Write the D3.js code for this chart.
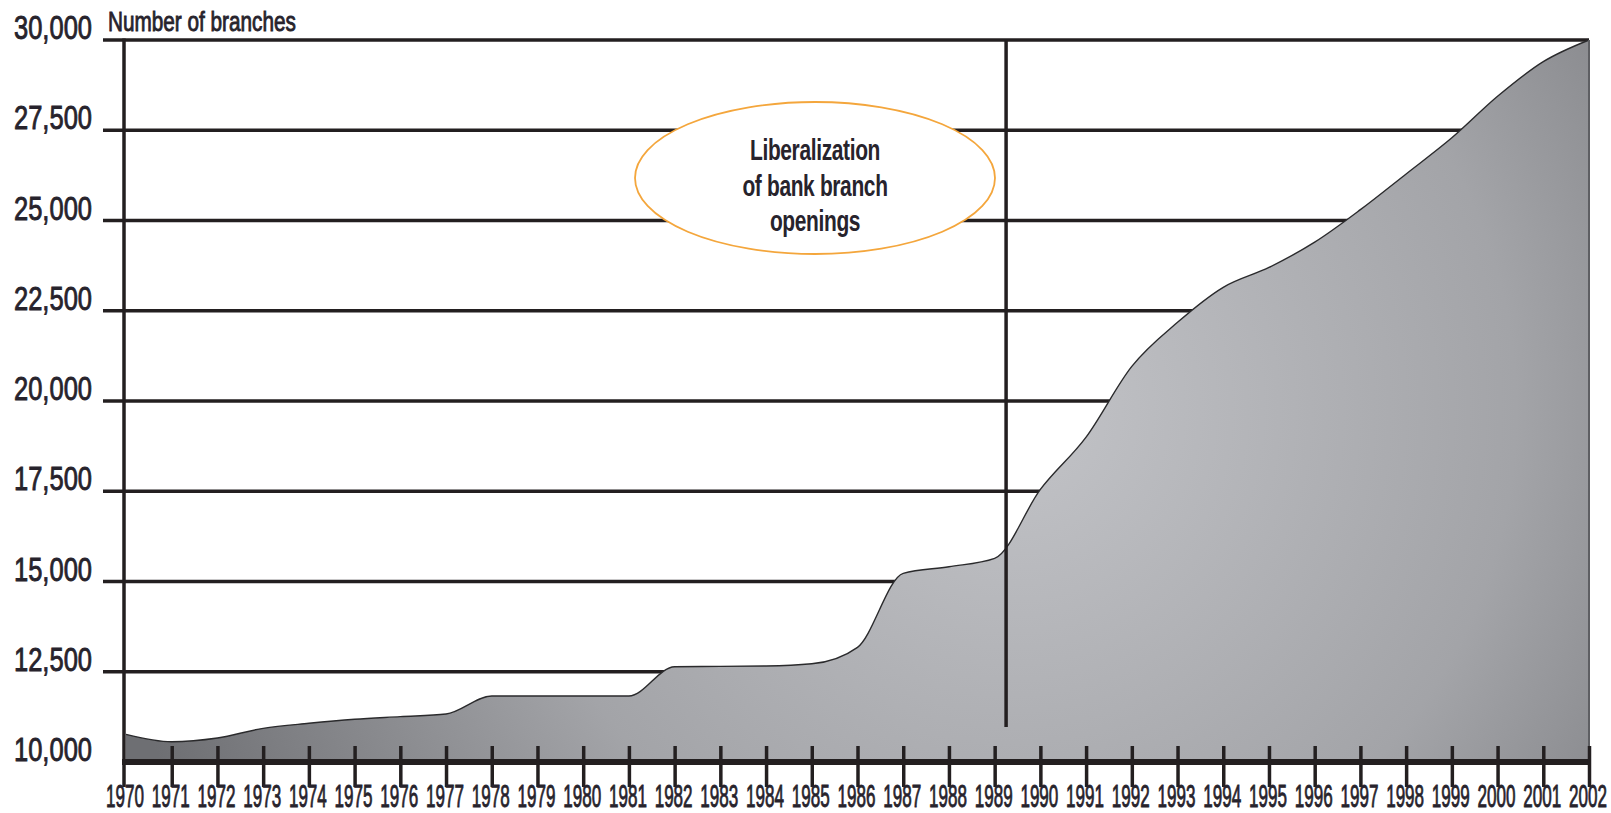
<!DOCTYPE html>
<html>
<head>
<meta charset="utf-8">
<script src="https://cdn.jsdelivr.net/npm/d3@7/dist/d3.min.js"></script>
<style>
  html, body { margin: 0; padding: 0; background: #ffffff; }
  svg { display: block; }
  text { font-family: "Liberation Sans", Arial, sans-serif; fill: #27232c; }
  .heavy { stroke: #27232c; stroke-width: 0.9px; paint-order: stroke; }
</style>
</head>
<body>
<svg id="chart" width="1611" height="813"></svg>
<script>
// Number of bank branches per year, 1970-2002
const years = [1970, 1971, 1972, 1973, 1974, 1975, 1976, 1977, 1978, 1979, 1980,
  1981, 1982, 1983, 1984, 1985, 1986, 1987, 1988, 1989, 1990, 1991, 1992,
  1993, 1994, 1995, 1996, 1997, 1998, 1999, 2000, 2001, 2002];
const branches = [10767, 10562, 10665, 10933, 11072, 11183, 11256, 11330, 11828, 11828, 11828,
  11828, 12640, 12650, 12659, 12720, 13177, 15227, 15410, 15640, 17550, 19000, 20960,
  22180, 23150, 23700, 24400, 25300, 26290, 27290, 28440, 29400, 30000];
const yTicks = [10000, 12500, 15000, 17500, 20000, 22500, 25000, 27500, 30000];
const yTitle = "Number of branches";
const reformYear = 1989.25;
const noteLines = ["Liberalization", "of bank branch", "openings"];

const data = years.map((yr, i) => ({ year: yr, value: branches[i] }));

const svg = d3.select("#chart");
const W = 1611, H = 813;
const margin = { left: 126, right: 22, top: 40, bottom: 51 };
const ink = "#231f20";

const x = d3.scaleLinear().domain([years[0], years[years.length - 1]])
  .range([margin.left, W - margin.right]);
const y = d3.scaleLinear().domain([yTicks[0], yTicks[yTicks.length - 1]])
  .range([H - margin.bottom, margin.top]);

// measure helper to squeeze glyphs into the condensed look
function naturalWidth(str, size, weight) {
  const t = svg.append("text").attr("font-size", size).attr("font-weight", weight || "normal").text(str);
  const w = t.node().getComputedTextLength();
  t.remove();
  return w;
}

// gradient fill for the area
const defs = svg.append("defs");
const grad = defs.append("radialGradient").attr("id", "areaFill")
  .attr("gradientUnits", "userSpaceOnUse")
  .attr("cx", 1010).attr("cy", 410).attr("r", 920);
grad.append("stop").attr("offset", "0%").attr("stop-color", "#c3c4c8");
grad.append("stop").attr("offset", "55%").attr("stop-color", "#a3a4a8");
grad.append("stop").attr("offset", "100%").attr("stop-color", "#6e6f73");

// horizontal grid lines
const x0 = x.range()[0], x1 = x.range()[1];
svg.append("g").selectAll("line").data(yTicks.slice(1)).join("line")
  .attr("x1", x0 - 23).attr("x2", x1)
  .attr("y1", d => y(d)).attr("y2", d => y(d))
  .attr("stroke", ink).attr("stroke-width", 3.5);

// the area
const area = d3.area().curve(d3.curveMonotoneX)
  .x(d => x(d.year)).y0(y(yTicks[0])).y1(d => y(d.value));
const line = d3.line().curve(d3.curveMonotoneX)
  .x(d => x(d.year)).y(d => y(d.value));
svg.append("path").datum(data).attr("d", area).attr("fill", "url(#areaFill)");
svg.append("path").datum(data).attr("d", line)
  .attr("fill", "none").attr("stroke", "#2a2a2c").attr("stroke-width", 1.4);
svg.append("line")
  .attr("x1", x1).attr("x2", x1)
  .attr("y1", y(branches[branches.length - 1])).attr("y2", y(yTicks[0]))
  .attr("stroke", "#5e5f63").attr("stroke-width", 2);

// y axis line
svg.append("line").attr("x1", x0 - 2).attr("x2", x0 - 2)
  .attr("y1", y(yTicks[yTicks.length - 1]) - 1.5).attr("y2", y(yTicks[0]) + 25)
  .attr("stroke", ink).attr("stroke-width", 3.5);

// x axis with ticks
svg.append("line").attr("x1", x0 - 4).attr("x2", x1 + 2)
  .attr("y1", y(yTicks[0])).attr("y2", y(yTicks[0]))
  .attr("stroke", ink).attr("stroke-width", 6);
const xAxis = d3.axisBottom(x).tickValues(years.slice(1)).tickSizeInner(25).tickSizeOuter(0).tickFormat("");
const gx = svg.append("g").attr("transform", `translate(0,${y(yTicks[0])})`).call(xAxis);
gx.select(".domain").remove();
gx.selectAll(".tick line")
  .attr("y1", -16).attr("y2", 25)
  .attr("stroke", ink).attr("stroke-width", 3.5);

// x labels
const xSize = 31;
const xs = 38 / naturalWidth("2000", xSize);
svg.append("g").selectAll("text").data(years).join("text")
  .attr("class", "heavy")
  .attr("transform", d => `translate(${x(d) - 1},${H - 6}) scale(${xs},1)`)
  .attr("text-anchor", "middle").attr("font-size", xSize)
  .text(d => String(d));

// y labels
const ySize = 34;
const ys = 78 / naturalWidth("30,000", ySize);
const fmt = d3.format(",");
svg.append("g").selectAll("text").data(yTicks).join("text")
  .attr("class", "heavy")
  .attr("transform", d => `translate(92,${y(d) - 1}) scale(${ys},1)`)
  .attr("text-anchor", "end").attr("font-size", ySize)
  .text(d => fmt(d));

// y title
const tSize = 28;
const ts = 188 / naturalWidth(yTitle, tSize);
svg.append("text")
  .attr("class", "heavy")
  .attr("transform", `translate(108,31) scale(${ts},1)`)
  .attr("font-size", tSize).text(yTitle);

// liberalization marker
svg.append("line")
  .attr("x1", x(reformYear)).attr("x2", x(reformYear))
  .attr("y1", y(yTicks[yTicks.length - 1])).attr("y2", 727)
  .attr("stroke", ink).attr("stroke-width", 3.5);

// callout
const cx = 815, cy = 178;
svg.append("ellipse").attr("cx", cx).attr("cy", cy).attr("rx", 180).attr("ry", 76)
  .attr("fill", "#ffffff").attr("stroke", "#f4a63c").attr("stroke-width", 1.8);
const nSize = 30;
const ns = 135 / naturalWidth(noteLines[0], nSize, "bold");
svg.append("g").selectAll("text").data(noteLines).join("text")
  .attr("transform", (d, i) => `translate(${cx},${160 + i * 35.5}) scale(${ns},1)`)
  .attr("text-anchor", "middle").attr("font-size", nSize).attr("font-weight", "bold")
  .attr("letter-spacing", -0.5)
  .text(d => d);
</script>
</body>
</html>
